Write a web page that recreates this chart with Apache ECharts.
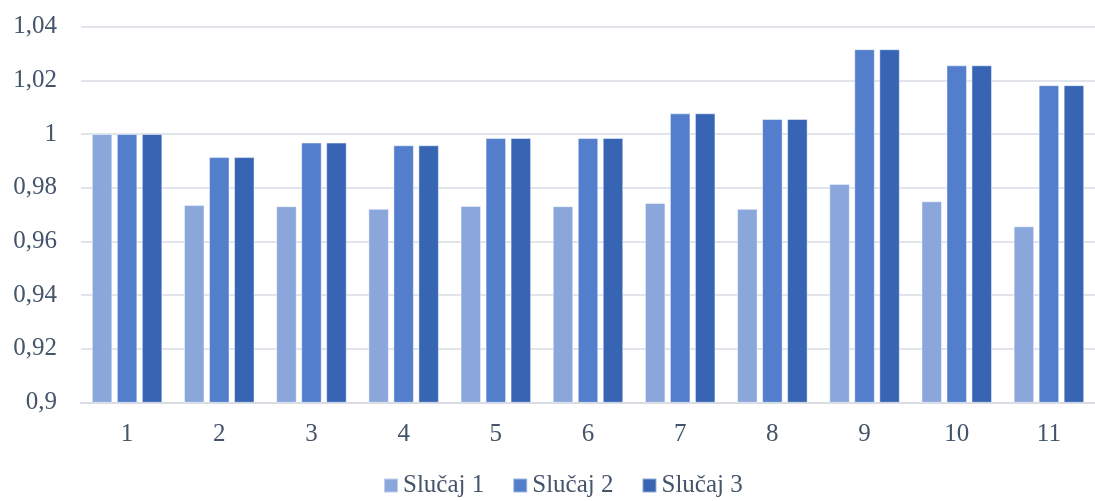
<!DOCTYPE html>
<html>
<head>
<meta charset="utf-8">
<script src="https://cdn.jsdelivr.net/npm/echarts@6/dist/echarts.min.js"></script>
<style>html,body{margin:0;padding:0;background:#fff}#c{width:1095px;height:501px}</style>
</head>
<body>
<div id="c"></div>
<script>
const categories = ['1','2','3','4','5','6','7','8','9','10','11'];
const seriesNames = ['Slučaj 1','Slučaj 2','Slučaj 3'];
const slucaj1 = [1.000, 0.9735, 0.9731, 0.9721, 0.9732, 0.9731, 0.9743, 0.9721, 0.9814, 0.9749, 0.9656];
const slucaj2 = [1.000, 0.9914, 0.9968, 0.9958, 0.9985, 0.9985, 1.0077, 1.0056, 1.0316, 1.0256, 1.0182];
const slucaj3 = [1.000, 0.9914, 0.9968, 0.9958, 0.9985, 0.9985, 1.0077, 1.0056, 1.0316, 1.0256, 1.0182];
const colors = ['#8AA6DB', '#527ECB', '#3765B3'];
const font = 'Liberation Serif';
const textColor = '#44546A';

const chart = echarts.init(document.getElementById('c'));
const data = [slucaj1, slucaj2, slucaj3];
chart.setOption({
  animation: false,
  grid: { left: 81, top: 26.7, width: 1018, height: 375.6, containLabel: false },
  legend: {
    top: 473, left: 383, padding: 0,
    itemWidth: 14, itemHeight: 14, itemGap: 28,
    icon: 'rect',
    textStyle: { fontFamily: font, fontSize: 25, color: textColor },
    data: seriesNames
  },
  xAxis: {
    type: 'category', data: categories,
    axisTick: { show: false },
    axisLine: { lineStyle: { color: '#D9DCE3', width: 2 } },
    axisLabel: { fontFamily: font, fontSize: 25, color: textColor, margin: 20 }
  },
  yAxis: {
    type: 'value', min: 0.9, max: 1.04, interval: 0.02,
    axisLine: { show: false }, axisTick: { show: false },
    splitLine: { lineStyle: { color: '#E1E4EA', width: 2 } },
    axisLabel: {
      fontFamily: font, fontSize: 25, color: textColor, margin: 24,
      formatter: v => { const r = Math.round(v * 100) / 100; return String(r).replace('.', ','); }
    }
  },
  series: data.map((d, i) => ({
    name: seriesNames[i], type: 'bar', data: d,
    barWidth: 20.5, barGap: '22%',
    itemStyle: { color: colors[i], borderColor: 'rgba(255,255,255,0.45)', borderWidth: 1 }
  }))
});
</script>
</body>
</html>
